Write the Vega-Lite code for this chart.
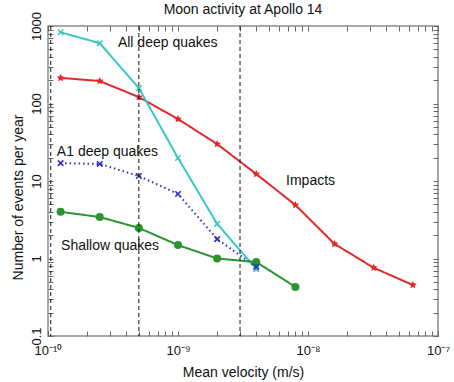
{
  "$schema": "https://vega.github.io/schema/vega-lite/v6.json",
  "width": 390,
  "height": 310,
  "autosize": "none",
  "padding": {"left": 48, "top": 26, "right": 16, "bottom": 46},
  "background": "white",
  "title": {"text": "Moon activity at Apollo 14", "font": "Liberation Sans", "fontSize": 14, "fontWeight": "normal", "color": "#111", "offset": 0, "dy": 5},
  "config": {
    "view": {"stroke": "#8a8a8a", "strokeWidth": 1.5},
    "axis": {"grid": false, "domain": false, "tickColor": "#666", "tickSize": -5, "labelFont": "Liberation Sans", "titleFont": "Liberation Sans", "labelColor": "#111", "titleColor": "#111", "titleFontWeight": "normal", "labelFontSize": 13, "titleFontSize": 14, "labelOverlap": false, "labelFlush": false}
  },
  "datasets": {
    "series": [
      {"s": "Impacts", "v": 1.25e-10, "n": 214},
      {"s": "Impacts", "v": 2.5e-10, "n": 195},
      {"s": "Impacts", "v": 5e-10, "n": 121},
      {"s": "Impacts", "v": 1e-9, "n": 63},
      {"s": "Impacts", "v": 2e-9, "n": 30},
      {"s": "Impacts", "v": 4e-9, "n": 12.3},
      {"s": "Impacts", "v": 8e-9, "n": 4.9},
      {"s": "Impacts", "v": 1.6e-8, "n": 1.54},
      {"s": "Impacts", "v": 3.2e-8, "n": 0.76},
      {"s": "Impacts", "v": 6.4e-8, "n": 0.455},
      {"s": "All deep quakes", "v": 1.25e-10, "n": 830},
      {"s": "All deep quakes", "v": 2.5e-10, "n": 600},
      {"s": "All deep quakes", "v": 5e-10, "n": 158},
      {"s": "All deep quakes", "v": 1e-9, "n": 19.8},
      {"s": "All deep quakes", "v": 2e-9, "n": 2.8},
      {"s": "All deep quakes", "v": 4e-9, "n": 0.73},
      {"s": "A1 deep quakes", "v": 1.25e-10, "n": 17},
      {"s": "A1 deep quakes", "v": 2.5e-10, "n": 16.6},
      {"s": "A1 deep quakes", "v": 5e-10, "n": 11.6},
      {"s": "A1 deep quakes", "v": 1e-9, "n": 6.8},
      {"s": "A1 deep quakes", "v": 2e-9, "n": 1.78},
      {"s": "A1 deep quakes", "v": 4e-9, "n": 0.78},
      {"s": "Shallow quakes", "v": 1.25e-10, "n": 4.0},
      {"s": "Shallow quakes", "v": 2.5e-10, "n": 3.43},
      {"s": "Shallow quakes", "v": 5e-10, "n": 2.48},
      {"s": "Shallow quakes", "v": 1e-9, "n": 1.49},
      {"s": "Shallow quakes", "v": 2e-9, "n": 1.0},
      {"s": "Shallow quakes", "v": 4e-9, "n": 0.9},
      {"s": "Shallow quakes", "v": 8e-9, "n": 0.43}
    ],
    "rules": [{"v": 1.05e-10}, {"v": 5e-10}, {"v": 3e-9}],
    "labels": [
      {"t": "All deep quakes", "v": 3.45e-10, "n": 536},
      {"t": "A1 deep quakes", "v": 1.17e-10, "n": 21},
      {"t": "Impacts", "v": 6.78e-9, "n": 8.9},
      {"t": "Shallow quakes", "v": 1.26e-10, "n": 1.29}
    ]
  },
  "resolve": {"axis": {"x": "independent", "y": "independent"}},
  "layer": [
    {
      "data": {"name": "series"},
      "mark": {"type": "line", "strokeWidth": 2},
      "encoding": {
        "x": {"field": "v", "type": "quantitative",
          "scale": {"type": "log", "domain": [1e-10, 1e-7]},
          "axis": {"orient": "bottom", "title": "Mean velocity (m/s)", "titlePadding": 8, "labelPadding": 13,
            "values": [1e-10,2e-10,3e-10,4e-10,5e-10,6e-10,7e-10,8e-10,9e-10,1e-9,2e-9,3e-9,4e-9,5e-9,6e-9,7e-9,8e-9,9e-9,1e-8,2e-8,3e-8,4e-8,5e-8,6e-8,7e-8,8e-8,9e-8,1e-7],
            "labelExpr": "abs(datum.value / pow(10, round(log(datum.value)/LN10)) - 1) < 0.001 ? (round(log(datum.value)/LN10) == -10 ? '10⁻¹⁰' : round(log(datum.value)/LN10) == -9 ? '10⁻⁹' : round(log(datum.value)/LN10) == -8 ? '10⁻⁸' : '10⁻⁷') : ''"}},
        "y": {"field": "n", "type": "quantitative",
          "scale": {"type": "log", "domain": [0.1, 1000]},
          "axis": {"orient": "left", "title": "Number of events per year", "labelAngle": -90, "labelAlign": "center", "labelBaseline": "bottom", "labelPadding": 10,
            "titleX": -23, "titleY": 171, "titleAngle": -90, "titleAlign": "center", "titleBaseline": "bottom",
            "values": [0.1,0.2,0.3,0.4,0.5,0.6,0.7,0.8,0.9,1,2,3,4,5,6,7,8,9,10,20,30,40,50,60,70,80,90,100,200,300,400,500,600,700,800,900,1000],
            "labelExpr": "abs(datum.value / pow(10, round(log(datum.value)/LN10)) - 1) < 0.001 ? format(datum.value, '~g') : ''"}},
        "color": {"field": "s", "type": "nominal", "legend": null,
          "scale": {"domain": ["Impacts", "All deep quakes", "A1 deep quakes", "Shallow quakes"], "range": ["#e02a2a", "#3cc6c6", "#3030c0", "#2a952e"]}},
        "strokeDash": {"field": "s", "type": "nominal", "legend": null,
          "scale": {"domain": ["Impacts", "All deep quakes", "A1 deep quakes", "Shallow quakes"], "range": [[1, 0], [1, 0], [1.5, 3], [1, 0]]}}
      }
    },
    {
      "data": {"name": "series"},
      "mark": {"type": "point", "opacity": 0},
      "encoding": {
        "x": {"field": "v", "type": "quantitative",
          "axis": {"orient": "top", "title": null, "labels": false, "minExtent": 0, "maxExtent": 0,
            "values": [1e-10,2e-10,3e-10,4e-10,5e-10,6e-10,7e-10,8e-10,9e-10,1e-9,2e-9,3e-9,4e-9,5e-9,6e-9,7e-9,8e-9,9e-9,1e-8,2e-8,3e-8,4e-8,5e-8,6e-8,7e-8,8e-8,9e-8,1e-7]}},
        "y": {"field": "n", "type": "quantitative",
          "axis": {"orient": "right", "title": null, "labels": false, "minExtent": 0, "maxExtent": 0,
            "values": [0.1,0.2,0.3,0.4,0.5,0.6,0.7,0.8,0.9,1,2,3,4,5,6,7,8,9,10,20,30,40,50,60,70,80,90,100,200,300,400,500,600,700,800,900,1000]}}
      }
    },
    {
      "data": {"name": "series"},
      "transform": [{"filter": "datum.s == 'Impacts' || datum.s == 'Shallow quakes'"}],
      "mark": {"type": "point", "filled": true, "opacity": 1},
      "encoding": {
        "x": {"field": "v", "type": "quantitative", "axis": null},
        "y": {"field": "n", "type": "quantitative", "axis": null},
        "color": {"field": "s", "type": "nominal", "legend": null},
        "shape": {"field": "s", "type": "nominal", "legend": null,
          "scale": {"domain": ["Impacts", "Shallow quakes"], "range": ["M0,-1L0.294,-0.405L0.951,-0.309L0.476,0.155L0.588,0.809L0,0.5L-0.588,0.809L-0.476,0.155L-0.951,-0.309L-0.294,-0.405Z", "circle"]}},
        "size": {"value": 65}
      }
    },
    {
      "data": {"name": "series"},
      "transform": [{"filter": "datum.s == 'All deep quakes' || datum.s == 'A1 deep quakes'"}],
      "mark": {"type": "point", "filled": false, "shape": "M-1,-1L1,1M-1,1L1,-1", "strokeWidth": 1.6, "opacity": 1, "size": 30},
      "encoding": {
        "x": {"field": "v", "type": "quantitative", "axis": null},
        "y": {"field": "n", "type": "quantitative", "axis": null},
        "color": {"field": "s", "type": "nominal", "legend": null}
      }
    },
    {
      "data": {"name": "rules"},
      "mark": {"type": "rule", "color": "#111", "strokeWidth": 1, "strokeDash": [4, 3]},
      "encoding": {
        "x": {"field": "v", "type": "quantitative", "axis": null}
      }
    },
    {
      "data": {"name": "labels"},
      "mark": {"type": "text", "align": "left", "baseline": "alphabetic", "font": "Liberation Sans", "fontSize": 14, "color": "#111"},
      "encoding": {
        "x": {"field": "v", "type": "quantitative", "axis": null},
        "y": {"field": "n", "type": "quantitative", "axis": null},
        "text": {"field": "t"}
      }
    }
  ]
}
